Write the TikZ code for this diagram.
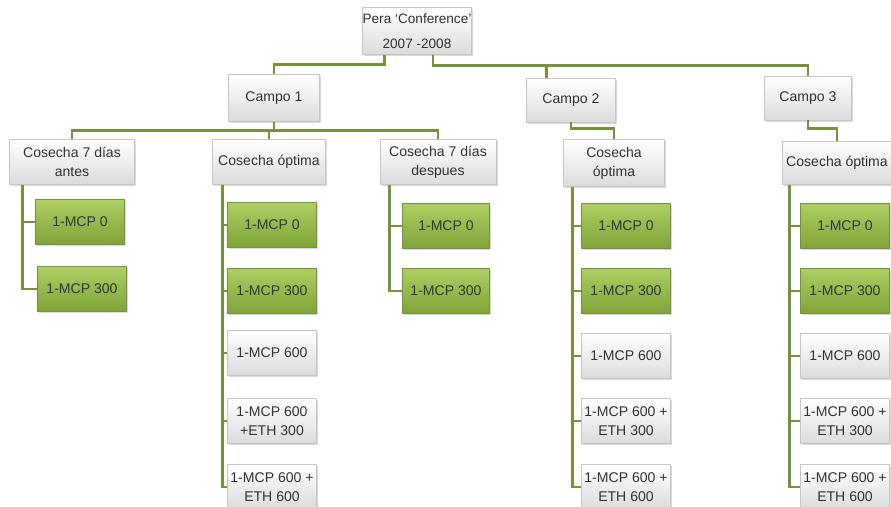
\documentclass[tikz,border=0pt]{standalone}
\usepackage{fontspec}
\setmainfont{Liberation Sans}
\usetikzlibrary{shadows}
\definecolor{mgreen}{RGB}{118,146,60}
\definecolor{lgreen}{RGB}{172,206,98}
\definecolor{dgreen}{RGB}{128,164,56}
\tikzset{link/.style = {mgreen, line width=2.4pt},
         card/.style 2 args = {rectangle, align=center, inner sep=2pt,
                               minimum width=#1*0.03cm, minimum height=#2*0.03cm,
                               font=\fontsize{12}{16}\selectfont, text=black!80,
                               drop shadow={shadow xshift=1.5pt, shadow yshift=-1.5pt, opacity=0.3}},
         greycard/.style = {draw=gray!45, top color=white, bottom color=gray!28},
         greencard/.style = {draw=mgreen, top color=lgreen, bottom color=dgreen}}

\begin{document}
\begin{tikzpicture}[x=0.03cm, y=-0.03cm]
    \useasboundingbox (0, 0) rectangle (891, 507);

    \node [card={105}{47}, greycard, inner sep=0pt, font=\fontsize{11.6}{15}\selectfont] (root) at (417, 31) {Pera ‘Conference’\\[6pt]2007 -2008};

    \node [card={91}{47}, greycard] (campo1) at (274, 98) {Campo 1};
    \node [card={89}{44}, greycard] (campo2) at (571, 100) {Campo 2};
    \node [card={87}{44}, greycard] (campo3) at (808, 98) {Campo 3};

    \node [card={125}{45}, greycard] (cos1a) at (72, 162) {Cosecha 7 días\\antes};
    \node [card={113}{45}, greycard] (cos1b) at (269, 162) {Cosecha óptima};
    \node [card={116}{45}, greycard] (cos1c) at (438, 162) {Cosecha 7 días\\despues};
    \node [card={101}{47}, greycard] (cos2) at (614, 163) {Cosecha\\óptima};
    \node [card={110}{43}, greycard] (cos3) at (837, 163) {Cosecha óptima};

    \node [card={89}{45}, greencard] (a1) at (80, 222) {1-MCP 0};
    \node [card={89}{45}, greencard] (a2) at (82, 289) {1-MCP 300};

    \node [card={89}{45}, greencard] (b1) at (272, 225) {1-MCP 0};
    \node [card={89}{45}, greencard] (b2) at (272, 291) {1-MCP 300};
    \node [card={89}{45}, greycard] (b3) at (272, 353) {1-MCP 600};
    \node [card={89}{45}, greycard] (b4) at (272, 421) {1-MCP 600\\+ETH 300};
    \node [card={89}{45}, greycard] (b5) at (272, 487) {1-MCP 600 +\\ETH 600};

    \node [card={87}{45}, greencard] (c1) at (446, 226) {1-MCP 0};
    \node [card={87}{45}, greencard] (c2) at (446, 291) {1-MCP 300};

    \node [card={89}{45}, greencard] (d1) at (626, 226) {1-MCP 0};
    \node [card={89}{45}, greencard] (d2) at (626, 291) {1-MCP 300};
    \node [card={89}{45}, greycard] (d3) at (626, 356) {1-MCP 600};
    \node [card={89}{45}, greycard] (d4) at (626, 421) {1-MCP 600 +\\ETH 300};
    \node [card={89}{45}, greycard] (d5) at (626, 487) {1-MCP 600 +\\ETH 600};

    \node [card={89}{45}, greencard] (e1) at (845, 226) {1-MCP 0};
    \node [card={89}{45}, greencard] (e2) at (845, 291) {1-MCP 300};
    \node [card={89}{45}, greycard] (e3) at (845, 356) {1-MCP 600};
    \node [card={89}{45}, greycard] (e4) at (845, 421) {1-MCP 600 +\\ETH 300};
    \node [card={89}{45}, greycard] (e5) at (845, 487) {1-MCP 600 +\\ETH 600};

    % top levels
    \draw [link] (root.south west) ++(22, 0) -- ++(0, 10) -| (campo1.north);
    \draw [link] (root.south) ++(16, 0) -- ++(0, 11) -| (campo3.north);
    \draw [link] (campo2.north west) ++(20, 0) -- ++(0, -12);

    \draw [link] (campo1.south) -- ++(0, 9) -| (cos1a.north);
    \draw [link] (campo1.south) ++(0, 9) -| (cos1b.north);
    \draw [link] (campo1.south) ++(0, 9) -| (cos1c.north);
    \draw [link] (campo2.south) -- ++(0, 6) -| (cos2.north);
    \draw [link] (campo3.south) -- ++(0, 8) -| (cos3.north);

    % treatments
    \draw [link] (cos1a.south west) ++(13, 0) |- (a1.west);
    \draw [link] (cos1a.south west) ++(13, 0) |- (a2.west);

    \draw [link] (cos1b.south west) ++(10, 0) |- (b1.west);
    \draw [link] (cos1b.south west) ++(10, 0) |- (b2.west);
    \draw [link] (cos1b.south west) ++(10, 0) |- (b3.west);
    \draw [link] (cos1b.south west) ++(10, 0) |- (b4.west);
    \draw [link] (cos1b.south west) ++(10, 0) |- (b5.west);

    \draw [link] (cos1c.south west) ++(10, 0) |- (c1.west);
    \draw [link] (cos1c.south west) ++(10, 0) |- (c2.west);

    \draw [link] (cos2.south west) ++(9, 0) |- (d1.west);
    \draw [link] (cos2.south west) ++(9, 0) |- (d2.west);
    \draw [link] (cos2.south west) ++(9, 0) |- (d3.west);
    \draw [link] (cos2.south west) ++(9, 0) |- (d4.west);
    \draw [link] (cos2.south west) ++(9, 0) |- (d5.west);

    \draw [link] (cos3.south west) ++(8, 0) |- (e1.west);
    \draw [link] (cos3.south west) ++(8, 0) |- (e2.west);
    \draw [link] (cos3.south west) ++(8, 0) |- (e3.west);
    \draw [link] (cos3.south west) ++(8, 0) |- (e4.west);
    \draw [link] (cos3.south west) ++(8, 0) |- (e5.west);
\end{tikzpicture}
\end{document}
